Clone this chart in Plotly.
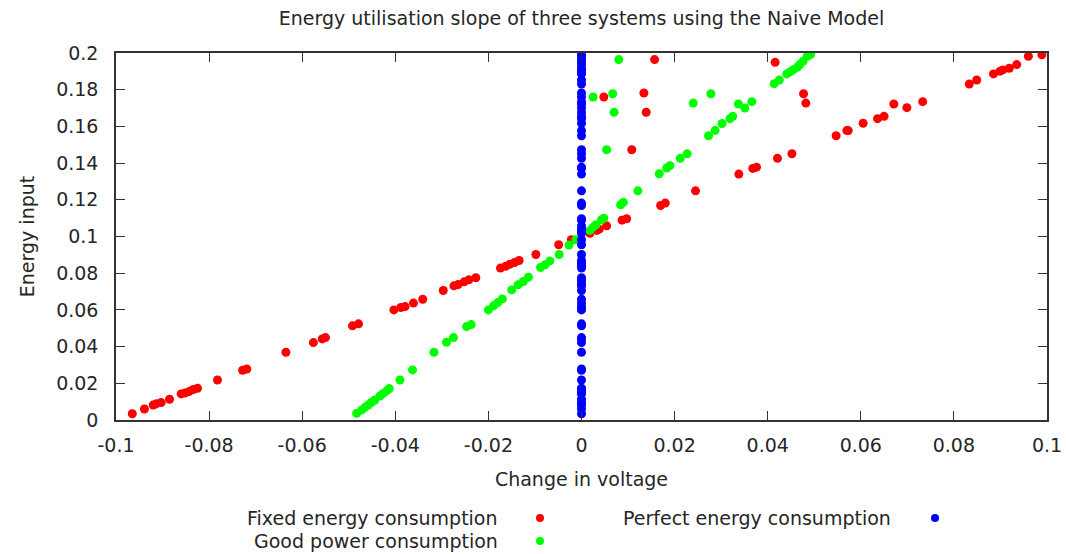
import plotly.graph_objects as go

# Fixed energy consumption: (change in voltage, energy input)
fixed_dv = [-0.0965, -0.0939, -0.0920, -0.0913, -0.0903, -0.0885, -0.0860, -0.0852, -0.0843, -0.0834,
            -0.0825, -0.0782, -0.0728, -0.0719, -0.0635, -0.0576, -0.0557, -0.0550, -0.0492, -0.0479,
            -0.0403, -0.0388, -0.0379, -0.0361, -0.0341, -0.0297, -0.0274, -0.0265, -0.0252, -0.0242,
            -0.0227, -0.0174, -0.0163, -0.0154, -0.0144, -0.0134, -0.0098, -0.0049, -0.0022, 0.0018,
            0.0033, 0.0038, 0.0054, 0.0087, 0.0097, 0.0170, 0.0180, 0.0245, 0.0338, 0.0368,
            0.0376, 0.0421, 0.0452, 0.0547, 0.0570, 0.0573, 0.0605, 0.0636, 0.0650, 0.0671,
            0.0699, 0.0733, 0.0833, 0.0849, 0.0885, 0.0899, 0.0905, 0.0919, 0.0935, 0.0960,
            0.0989, 0.0157, 0.0048, 0.0134, 0.0139, 0.0108, 0.0416, 0.0477, 0.0482]
fixed_energy = [0.0034, 0.0060, 0.0082, 0.0089, 0.0095, 0.0113, 0.0142, 0.0147, 0.0155, 0.0166,
                0.0173, 0.0218, 0.0271, 0.0278, 0.0369, 0.0422, 0.0442, 0.0449, 0.0513, 0.0524,
                0.0600, 0.0613, 0.0618, 0.0637, 0.0658, 0.0706, 0.0731, 0.0738, 0.0753, 0.0764,
                0.0775, 0.0828, 0.0838, 0.0849, 0.0858, 0.0869, 0.0902, 0.0955, 0.0982, 0.1018,
                0.1033, 0.1040, 0.1058, 0.1089, 0.1097, 0.1169, 0.1182, 0.1249, 0.1340, 0.1371,
                0.1378, 0.1426, 0.1451, 0.1549, 0.1577, 0.1577, 0.1617, 0.1642, 0.1655, 0.1722,
                0.1702, 0.1735, 0.1831, 0.1853, 0.1886, 0.1901, 0.1908, 0.1917, 0.1937, 0.1982,
                0.1990, 0.1964, 0.1760, 0.1782, 0.1677, 0.1473, 0.1949, 0.1778, 0.1727]

# Good power consumption
good_dv = [-0.0483, -0.0472, -0.0465, -0.0458, -0.0451, -0.0444, -0.0433, -0.0426, -0.0418, -0.0413,
           -0.0390, -0.0363, -0.0317, -0.0290, -0.0275, -0.0247, -0.0237, -0.0200, -0.0189, -0.0180,
           -0.0170, -0.0150, -0.0136, -0.0125, -0.0114, -0.0088, -0.0078, -0.0068, -0.0048, -0.0027,
           -0.0012, 0.0018, 0.0025, 0.0031, 0.0043, 0.0048, 0.0084, 0.0090, 0.0121, 0.0167,
           0.0183, 0.0190, 0.0212, 0.0227, 0.0273, 0.0287, 0.0302, 0.0319, 0.0325, 0.0337,
           0.0351, 0.0366, 0.0414, 0.0425, 0.0441, 0.0448, 0.0455, 0.0464, 0.0469, 0.0476,
           0.0485, 0.0492, 0.0080, 0.0025, 0.0067, 0.0070, 0.0054, 0.0240, 0.0278]
good_energy = [0.0036, 0.0055, 0.0069, 0.0082, 0.0097, 0.0109, 0.0131, 0.0145, 0.0160, 0.0171,
               0.0218, 0.0273, 0.0369, 0.0424, 0.0449, 0.0509, 0.0520, 0.0600, 0.0622, 0.0640,
               0.0660, 0.0709, 0.0737, 0.0755, 0.0778, 0.0831, 0.0846, 0.0867, 0.0902, 0.0953,
               0.0982, 0.1033, 0.1051, 0.1064, 0.1091, 0.1100, 0.1173, 0.1186, 0.1249, 0.1342,
               0.1373, 0.1386, 0.1426, 0.1451, 0.1549, 0.1578, 0.1616, 0.1642, 0.1655, 0.1722,
               0.1700, 0.1735, 0.1833, 0.1853, 0.1886, 0.1897, 0.1909, 0.1924, 0.1937, 0.1955,
               0.1982, 0.1991, 0.1964, 0.1760, 0.1778, 0.1677, 0.1473, 0.1727, 0.1778]

# Perfect energy consumption: no change in voltage at any input
perfect_energy = [0.0034, 0.0060, 0.0082, 0.0089, 0.0095, 0.0113, 0.0142, 0.0147, 0.0155, 0.0166,
                  0.0173, 0.0218, 0.0271, 0.0278, 0.0369, 0.0422, 0.0442, 0.0449, 0.0513, 0.0524,
                  0.0600, 0.0613, 0.0618, 0.0637, 0.0658, 0.0706, 0.0731, 0.0738, 0.0753, 0.0764,
                  0.0775, 0.0828, 0.0838, 0.0849, 0.0858, 0.0869, 0.0902, 0.0955, 0.0982, 0.1018,
                  0.1033, 0.1040, 0.1058, 0.1089, 0.1097, 0.1169, 0.1182, 0.1249, 0.1340, 0.1371,
                  0.1378, 0.1426, 0.1451, 0.1473, 0.1549, 0.1577, 0.1617, 0.1642, 0.1655, 0.1677,
                  0.1702, 0.1722, 0.1735, 0.1760, 0.1782, 0.1831, 0.1853, 0.1886, 0.1901, 0.1908,
                  0.1917, 0.1937, 0.1949, 0.1964, 0.1982, 0.1990]
perfect_dv = [0.0] * len(perfect_energy)

x_ticks = [-0.1, -0.08, -0.06, -0.04, -0.02, 0, 0.02, 0.04, 0.06, 0.08, 0.1]
x_tick_labels = ["-0.1", "-0.08", "-0.06", "-0.04", "-0.02", "0", "0.02", "0.04", "0.06", "0.08", "0.1"]
y_ticks = [0, 0.02, 0.04, 0.06, 0.08, 0.1, 0.12, 0.14, 0.16, 0.18, 0.2]
y_tick_labels = ["0", "0.02", "0.04", "0.06", "0.08", "0.1", "0.12", "0.14", "0.16", "0.18", "0.2"]

series = [
    ("Fixed energy consumption", fixed_dv, fixed_energy, "#ff0000"),
    ("Good power consumption", good_dv, good_energy, "#00ff00"),
    ("Perfect energy consumption", perfect_dv, perfect_energy, "#0000ff"),
]

FONT = "DejaVu Sans, Verdana, sans-serif"
TEXT = "#262626"
AXIS = "#333333"
FS = 19

fig = go.Figure()
for name, xs, ys, color in series:
    fig.add_trace(go.Scatter(x=xs, y=ys, mode="markers", name=name,
                             marker=dict(size=9, color=color, line=dict(width=0)),
                             showlegend=False))

# Key below the plot: label text on the left, sample dot on the right
key_items = [
    ("Fixed energy consumption", "#ff0000", 0.4125, 0.4554, -0.267),
    ("Good power consumption", "#00ff00", 0.4125, 0.4554, -0.330),
    ("Perfect energy consumption", "#0000ff", 0.8346, 0.8797, -0.267),
]
annotations = []
shapes = []
for label, color, tx, mx, ky in key_items:
    annotations.append(dict(text=label, xref="paper", yref="paper", x=tx, y=ky,
                            xanchor="right", yanchor="middle", showarrow=False,
                            font=dict(family=FONT, size=FS, color=TEXT)))
    shapes.append(dict(type="circle", xref="paper", yref="paper",
                       xsizemode="pixel", ysizemode="pixel",
                       xanchor=mx, yanchor=ky, x0=-4, x1=4, y0=-4, y1=4,
                       fillcolor=color, line=dict(width=0)))

axis_common = dict(showgrid=False, zeroline=False, showline=True, linecolor=AXIS, linewidth=1.5,
                   mirror="allticks", ticks="inside", ticklen=9, tickwidth=1.2, tickcolor=AXIS,
                   automargin=False, tickfont=dict(family=FONT, size=FS, color=TEXT))

fig.update_layout(
    width=1066, height=554,
    margin=dict(l=116, r=19, t=53, b=134, autoexpand=False),
    paper_bgcolor="white", plot_bgcolor="white",
    font=dict(family=FONT, size=FS, color=TEXT),
    title=dict(text="Energy utilisation slope of three systems using the Naive Model",
               x=0.5, xref="paper", xanchor="center", y=0.967, yanchor="middle",
               font=dict(family=FONT, size=FS, color=TEXT)),
    xaxis=dict(range=[-0.1, 0.1], tickvals=x_ticks, ticktext=x_tick_labels,
               title=dict(text="Change in voltage", standoff=18, font=dict(family=FONT, size=FS, color=TEXT)),
               ticklabelstandoff=7, **axis_common),
    yaxis=dict(range=[0, 0.2], tickvals=y_ticks, ticktext=y_tick_labels,
               title=dict(text="Energy input", standoff=16, font=dict(family=FONT, size=FS, color=TEXT)),
               ticklabelstandoff=12, **axis_common),
    annotations=annotations,
    shapes=shapes,
)

fig.write_html("out.html")
